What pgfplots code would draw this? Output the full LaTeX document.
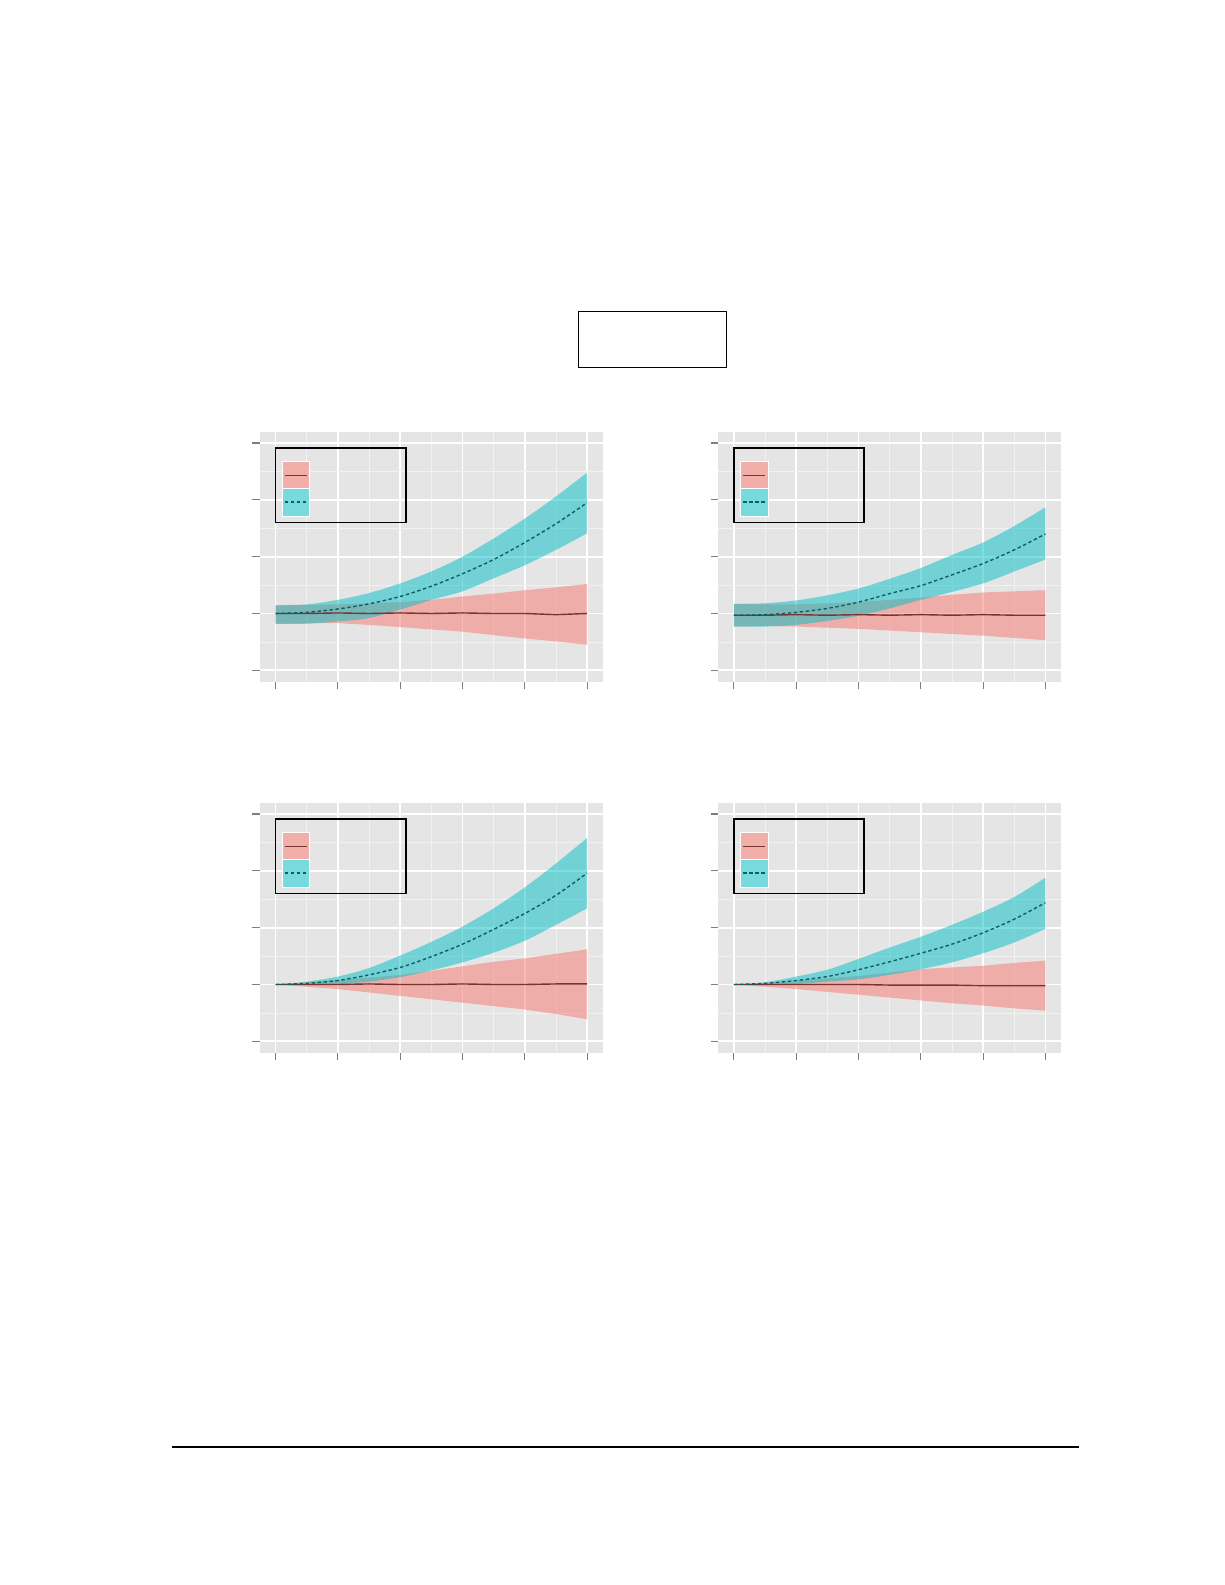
\documentclass[border=0pt]{standalone}
\usepackage{pgfplots}
\usepackage{pgfplotstable}
\pgfplotsset{compat=1.18}
\usepgfplotslibrary{fillbetween}

\definecolor{gg90}{HTML}{E5E5E5}
\definecolor{gg95}{HTML}{F2F2F2}
\definecolor{gg50}{HTML}{7F7F7F}
\definecolor{ggred}{HTML}{F8766D}
\definecolor{ggcyan}{HTML}{00BFC4}
\definecolor{redline}{HTML}{7A3430}
\definecolor{cyanline}{HTML}{0E5F63}
\definecolor{redkey}{HTML}{F2AFAA}
\definecolor{cyankey}{HTML}{78DADC}

% x  red band lo/hi  cyan band lo/hi  cyan mean  red mean
\pgfplotstableread{
x    rlo    rhi   clo    chi   cmid   rmid
0    -0.18  0.15  -0.18  0.14  0.00   0.00
0.5  -0.17  0.15  -0.18  0.16  0.02   0.00
1    -0.17  0.16  -0.14  0.24  0.08   0.01
1.5  -0.20  0.18  -0.08  0.36  0.17   0.00
2    -0.24  0.20   0.07  0.53  0.30   0.01
2.5  -0.28  0.24   0.24  0.74  0.48   0.00
3    -0.32  0.30   0.39  1.00  0.70   0.01
3.5  -0.38  0.35   0.62  1.32  0.95   0.00
4    -0.44  0.41   0.85  1.67  1.25   0.00
4.5  -0.49  0.46   1.12  2.06  1.58  -0.02
5    -0.55  0.52   1.41  2.48  1.95   0.00
}\pa
\pgfplotstableread{
x    rlo    rhi   clo    chi   cmid   rmid
0    -0.23  0.17  -0.23  0.17  -0.03  -0.03
0.5  -0.22  0.16  -0.23  0.18  -0.02  -0.03
1    -0.23  0.16  -0.20  0.23   0.02  -0.02
1.5  -0.25  0.18  -0.13  0.32   0.09  -0.03
2    -0.27  0.20  -0.04  0.44   0.20  -0.02
2.5  -0.30  0.24   0.09  0.61   0.35  -0.03
3    -0.33  0.28   0.24  0.80   0.49  -0.02
3.5  -0.36  0.33   0.38  1.03   0.68  -0.03
4    -0.39  0.37   0.53  1.25   0.88  -0.02
4.5  -0.43  0.39   0.74  1.54   1.12  -0.03
5    -0.47  0.41   0.95  1.87   1.40  -0.03
}\pb
\pgfplotstableread{
x    rlo    rhi   clo    chi   cmid   rmid
0    0.00   0.00  0.00   0.00  0.00   0.00
0.5 -0.04   0.04  0.00   0.05  0.02   0.00
1   -0.08   0.08  0.01   0.14  0.07   0.00
1.5 -0.14   0.12  0.05   0.29  0.17   0.01
2   -0.20   0.17  0.13   0.51  0.30   0.00
2.5 -0.26   0.24  0.25   0.75  0.49   0.00
3   -0.32   0.32  0.39   1.02  0.71   0.01
3.5 -0.38   0.40  0.56   1.34  0.97   0.00
4   -0.44   0.46  0.77   1.71  1.25   0.00
4.5 -0.52   0.54  1.05   2.13  1.57   0.01
5   -0.61   0.62  1.34   2.58  1.96   0.01
}\pc
\pgfplotstableread{
x    rlo    rhi   clo    chi   cmid   rmid
0    0.00   0.00  0.00   0.00  0.00   0.00
0.5 -0.04   0.03  0.00   0.04  0.02   0.00
1   -0.08   0.07  0.01   0.14  0.07   0.00
1.5 -0.13   0.11  0.05   0.26  0.14   0.00
2   -0.18   0.15  0.09   0.45  0.26   0.00
2.5 -0.23   0.21  0.17   0.65  0.40  -0.01
3   -0.28   0.27  0.27   0.84  0.55  -0.01
3.5 -0.33   0.30  0.39   1.05  0.71  -0.01
4   -0.37   0.33  0.55   1.28  0.91  -0.02
4.5 -0.42   0.38  0.74   1.54  1.15  -0.02
5   -0.46   0.42  0.98   1.88  1.44  -0.02
}\pd

\pgfplotsset{
  ggpanel/.style={
    width=171.35pt, height=125pt, scale only axis,
    anchor=south west,
    xmin=-0.25, xmax=5.25, ymin=-1.2, ymax=3.2,
    xtick={0,...,5}, ytick={-1,0,1,2,3},
    minor x tick num=1, minor y tick num=1,
    xticklabel=\empty, yticklabel=\empty,
    xtick pos=bottom, ytick pos=left,
    tick align=outside, major tick length=3.8pt, minor tick length=0pt,
    tick style={gg50, line width=0.6pt},
    axis line style={draw=none},
    axis background/.style={fill=gg90},
    grid=both,
    major grid style={white, line width=0.9pt},
    minor grid style={gg95, line width=0.4pt},
  },
}

% one panel: bands, mean lines, empty legend box
\newcommand{\panel}[2]{%
  \begin{axis}[ggpanel, at={#2}]
    \addplot[draw=none, name path=rlo] table[x=x, y=rlo] {#1};
    \addplot[draw=none, name path=rhi] table[x=x, y=rhi] {#1};
    \addplot[fill=ggred, fill opacity=0.5, draw=none] fill between[of=rlo and rhi];
    \addplot[draw=none, name path=clo, smooth] table[x=x, y=clo] {#1};
    \addplot[draw=none, name path=chi, smooth] table[x=x, y=chi] {#1};
    \addplot[fill=ggcyan, fill opacity=0.5, draw=none] fill between[of=clo and chi];
    \addplot[redline, line width=0.7pt] table[x=x, y=rmid] {#1};
    \addplot[cyanline, line width=0.7pt, smooth, dash pattern=on 1.7pt off 1.3pt] table[x=x, y=cmid] {#1};
    % legend box (no text)
    \draw[black, line width=0.8pt] (axis cs:0,2.91) rectangle (axis cs:2.09,1.60);
    \draw[white, line width=0.5pt, fill=redkey] (axis cs:0.11,2.68) rectangle (axis cs:0.55,2.20);
    \draw[white, line width=0.5pt, fill=cyankey] (axis cs:0.11,2.20) rectangle (axis cs:0.55,1.71);
    \draw[redline, line width=0.8pt] (axis cs:0.15,2.43) -- (axis cs:0.50,2.43);
    \draw[cyanline, line width=0.8pt, dash pattern=on 1.7pt off 1.3pt] (axis cs:0.15,1.96) -- (axis cs:0.50,1.96);
  \end{axis}%
}

\begin{document}
\begin{tikzpicture}
  % page frame (invisible)
  \path (0,0) rectangle (612.5pt,792.5pt);
  % empty title box
  \draw[black, line width=0.6pt] (289.15pt,608.85pt) rectangle (363.15pt,636.85pt);

  \panel{\pa}{(130pt,451.65pt)}
  \panel{\pb}{(359.15pt,451.65pt)}
  \panel{\pc}{(130pt,266.15pt)}
  \panel{\pd}{(359.15pt,266.15pt)}

  % footer rule
  \draw[black, line width=0.6pt] (85.85pt,69pt) -- (539.35pt,69pt);
\end{tikzpicture}
\end{document}
